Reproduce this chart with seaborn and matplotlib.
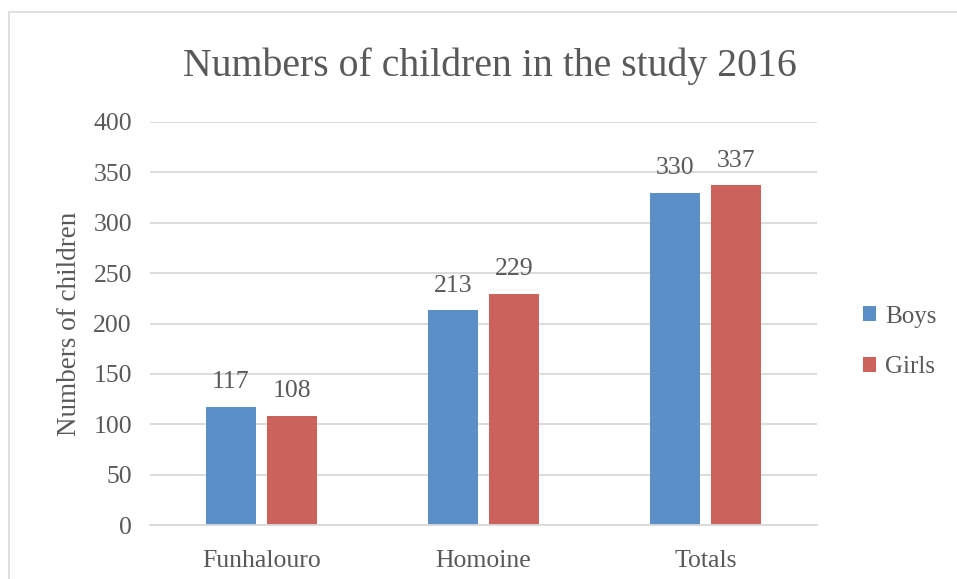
import matplotlib
matplotlib.use("Agg")
import matplotlib.pyplot as plt
import seaborn as sns
import pandas as pd
from matplotlib.lines import Line2D
from matplotlib.patches import Patch

categories = ["Funhalouro", "Homoine", "Totals"]
boys = [117, 213, 330]
girls = [108, 229, 337]
series = ["Boys", "Girls"]
yticks = [0, 50, 100, 150, 200, 250, 300, 350, 400]

df = pd.DataFrame({
    "cat": categories * 2,
    "val": boys + girls,
    "sex": ["Boys"] * 3 + ["Girls"] * 3,
})

sns.set_theme(style="white")
plt.rcParams["font.family"] = ["Liberation Serif", "DejaVu Serif"]
txt = "#595959"
colors = {"Boys": "#5B8FC7", "Girls": "#CB625C"}

W, H = 957, 579
fig = plt.figure(figsize=(W / 100, H / 100), dpi=100)
ax = fig.add_axes([150 / W, 1 - 525 / H, (817 - 150) / W, (525 - 122) / H])

sns.barplot(data=df, x="cat", y="val", hue="sex", palette=colors, width=0.549,
            gap=0.18, ax=ax, legend=False, edgecolor="none", saturation=1)

ax.set_ylim(0, 400)
ax.set_xlim(-0.5, 2.5)
ax.set_yticks(yticks)
ax.yaxis.grid(True, color="#D9D9D9", linewidth=1.3)
ax.set_axisbelow(True)
for s in ["top", "right", "left"]:
    ax.spines[s].set_visible(False)
ax.spines["bottom"].set_color("#D9D9D9")
ax.spines["bottom"].set_linewidth(1.3)
ax.tick_params(axis="both", length=0, labelsize=18.5, colors=txt)
ax.tick_params(axis="y", pad=13)
ax.tick_params(axis="x", pad=18)
ax.set_xlabel("")
ax.set_ylabel("Numbers of children", fontsize=19.5, color=txt, labelpad=8)

for c in ax.containers:
    ax.bar_label(c, fmt="%d", padding=10, fontsize=18.5, color=txt)

fig.text(490 / W, 1 - 66 / H, "Numbers of children in the study 2016",
         ha="center", va="center", fontsize=28.6, color=txt)

handles = [Patch(facecolor=colors[s], edgecolor="none") for s in series]
fig.legend(handles, series, loc="center left", bbox_to_anchor=(840 / W, 1 - 342 / H),
           frameon=False, fontsize=18, labelcolor=txt, handlelength=0.55,
           handleheight=0.55, handletextpad=0.35, labelspacing=1.15)

fig.add_artist(Line2D([9 / W, 1], [1 - 12 / H, 1 - 12 / H], color="#D9D9D9", lw=1.2))
fig.add_artist(Line2D([9 / W, 9 / W], [0, 1 - 12 / H], color="#D9D9D9", lw=1.2))

fig.savefig("out.png", dpi=100)
